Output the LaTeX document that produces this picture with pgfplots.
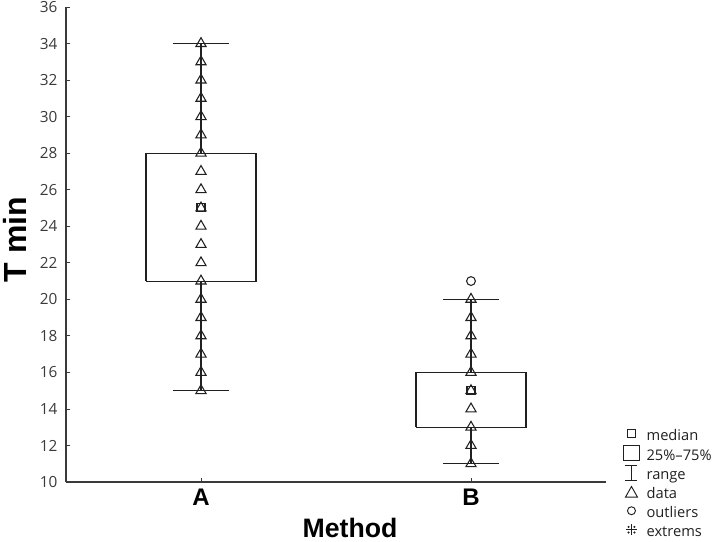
\documentclass[border=0pt]{standalone}
\usepackage{pgfplots}
\pgfplotsset{compat=1.18}
\usepackage{fontspec}
\setmainfont{Open Sans}
\newfontfamily\lab{Liberation Sans}
\definecolor{tk}{HTML}{3A3A3A}
\definecolor{ln}{HTML}{202020}
\begin{document}
\begin{tikzpicture}
\useasboundingbox (-49.5pt,-45pt) rectangle (486.75pt,361.5pt);
\begin{axis}[
  at={(0,0)}, anchor=south west, scale only axis,
  width=405pt, height=356.25pt,
  xmin=0.5, xmax=2.5, ymin=10, ymax=36,
  axis x line*=bottom, axis y line*=left,
  axis line style={tk, line width=0.8pt},
  xtick={1,2}, xticklabels={A,B},
  ytick={10,12,...,36},
  tick align=inside, major tick length=3pt,
  tick style={tk, line width=0.6pt},
  /pgf/number format/assume math mode=true,
  yticklabel style={font=\fontsize{11.5}{13}\selectfont, text=tk, xshift=-3pt},
  xticklabel style={font=\lab\fontsize{18}{21}\selectfont\bfseries, text=black, yshift=-2pt},
  xlabel={Method}, ylabel={T min},
  xlabel style={font=\lab\fontsize{20}{24}\selectfont\bfseries, at={(axis description cs:0.526,-0.097)}, anchor=center},
  ylabel style={font=\lab\fontsize{24}{28}\selectfont\bfseries, at={(axis description cs:-0.095,0.51)}, anchor=center},
  clip=false,
  legend style={at={(axis description cs:1.031,0.118)}, anchor=north west, draw=none, fill=none,
    inner sep=0pt,
    font=\fontsize{11}{12}\selectfont, text=ln,
    nodes={inner sep=0pt, text height=8pt, text depth=3pt},
    row sep=0.7pt},
  legend cell align=left,
  /tikz/every odd column/.append style={column sep=5pt},
]
% boxes
\addplot[ln, line width=0.8pt, forget plot] coordinates {(0.7963,21) (1.2037,21) (1.2037,28) (0.7963,28) (0.7963,21)};
\addplot[ln, line width=0.8pt, forget plot] coordinates {(1.7963,13) (2.2037,13) (2.2037,16) (1.7963,16) (1.7963,13)};
% whiskers
\addplot[ln, line width=0.9pt, forget plot] coordinates {(1,28) (1,34)};
\addplot[ln, line width=0.9pt, forget plot] coordinates {(1,15) (1,21)};
\addplot[ln, line width=0.9pt, forget plot] coordinates {(2,16) (2,20)};
\addplot[ln, line width=0.9pt, forget plot] coordinates {(2,11) (2,13)};
% caps
\addplot[ln, line width=0.8pt, forget plot] coordinates {(0.896,34) (1.104,34)};
\addplot[ln, line width=0.8pt, forget plot] coordinates {(0.896,15) (1.104,15)};
\addplot[ln, line width=0.8pt, forget plot] coordinates {(1.896,20) (2.104,20)};
\addplot[ln, line width=0.8pt, forget plot] coordinates {(1.896,11) (2.104,11)};
% data
\addplot[only marks, mark=triangle, mark size=4.4pt, mark options={ln, line width=0.8pt, fill=none}, forget plot] coordinates {
(1,15) (1,16) (1,17) (1,18) (1,19) (1,20) (1,21) (1,22) (1,23) (1,24) (1,25) (1,26) (1,27) (1,28) (1,29) (1,30) (1,31) (1,32) (1,33) (1,34)
(2,11) (2,12) (2,13) (2,14) (2,15) (2,16) (2,17) (2,18) (2,19) (2,20)};
% medians
\addplot[only marks, mark=square, mark size=3pt, mark options={ln, line width=0.8pt, fill=none}, forget plot] coordinates {(1,25) (2,15)};
% outliers
\addplot[only marks, mark=o, mark size=3.3pt, mark options={ln, line width=0.8pt}, forget plot] coordinates {(2,21)};
% legend
\addlegendimage{legend image code/.code={\path[draw=none,fill=none] (0pt,-3pt) rectangle (12pt,8pt); \draw[ln, line width=0.7pt] (2.8pt,-0.5pt) rectangle (9.2pt,5.9pt);}}
\addlegendentry{median}
\addlegendimage{legend image code/.code={\path[draw=none,fill=none] (0pt,-3pt) rectangle (12pt,8pt); \draw[ln, line width=0.7pt] (0pt,-3pt) rectangle (12pt,8.4pt);}}
\addlegendentry{25\%–75\%}
\addlegendimage{legend image code/.code={\path[draw=none,fill=none] (0pt,-3pt) rectangle (12pt,8pt); \draw[ln, line width=0.7pt] (6pt,-3pt) -- (6pt,8pt) (1.5pt,-3pt) -- (10.5pt,-3pt) (1.5pt,8pt) -- (10.5pt,8pt);}}
\addlegendentry{range}
\addlegendimage{legend image code/.code={\path[draw=none,fill=none] (0pt,-3pt) rectangle (12pt,8pt); \draw[ln, line width=0.7pt] (1.5pt,-1.5pt) -- (10.5pt,-1.5pt) -- (6pt,6.5pt) -- cycle;}}
\addlegendentry{data}
\addlegendimage{legend image code/.code={\path[draw=none,fill=none] (0pt,-3pt) rectangle (12pt,8pt); \draw[ln, line width=0.7pt] (6pt,2.5pt) circle (3pt);}}
\addlegendentry{outliers}
\addlegendimage{legend image code/.code={\path[draw=none,fill=none] (0pt,-3pt) rectangle (12pt,8pt); \draw[ln, line width=0.6pt] (2pt,2.5pt) -- (10pt,2.5pt) (6pt,-1.5pt) -- (6pt,6.5pt); \fill[ln] (3.8pt,4.6pt) circle (0.55pt) (8.2pt,4.6pt) circle (0.55pt) (3.8pt,0.4pt) circle (0.55pt) (8.2pt,0.4pt) circle (0.55pt);}}
\addlegendentry{extrems}
\end{axis}
\end{tikzpicture}
\end{document}
